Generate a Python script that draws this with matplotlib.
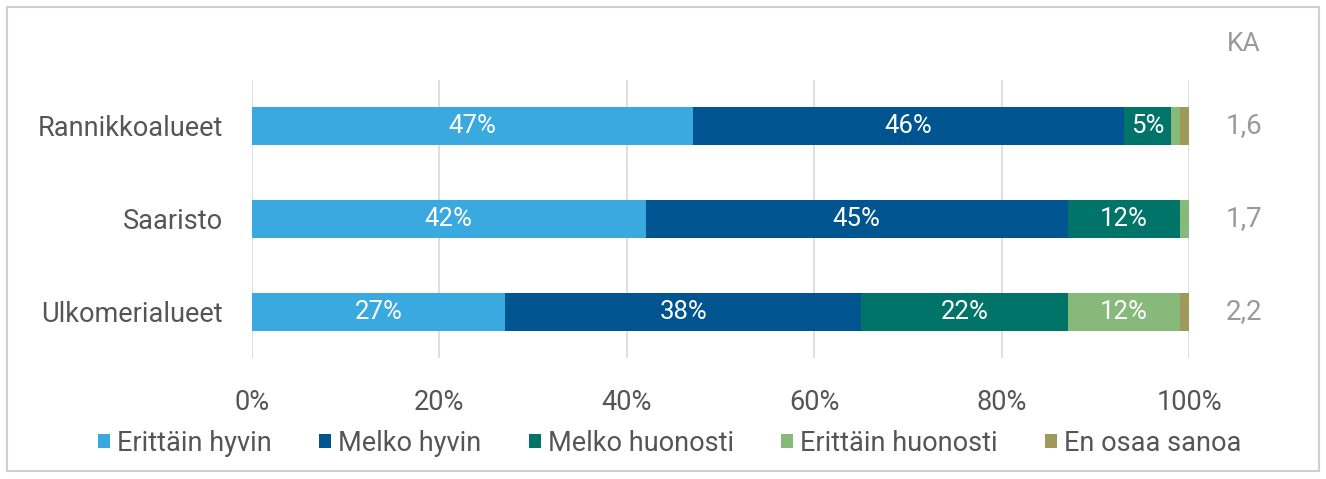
import numpy as np
import matplotlib.pyplot as plt
from matplotlib.patches import Rectangle

categories = ['Rannikkoalueet', 'Saaristo', 'Ulkomerialueet']
series_names = ['Erittäin hyvin', 'Melko hyvin', 'Melko huonosti', 'Erittäin huonosti', 'En osaa sanoa']
values = {
    'Erittäin hyvin': [47, 42, 27],
    'Melko hyvin': [46, 45, 38],
    'Melko huonosti': [5, 12, 22],
    'Erittäin huonosti': [1, 1, 12],
    'En osaa sanoa': [1, 0, 1],
}
ka_values = ['1,6', '1,7', '2,2']
colors = ['#39a9e0', '#00548f', '#007468', '#86b97a', '#a09a5a']
tick_labels = ['0%', '20%', '40%', '60%', '80%', '100%']

plt.rcParams['font.family'] = ['Roboto', 'DejaVu Sans']

fig = plt.figure(figsize=(13.26, 4.79), dpi=100)
ax = fig.add_axes([0.190, 0.252, 0.707, 0.582])

y = np.arange(len(categories))
left = np.zeros(len(categories))
handles = []
for name, col in zip(series_names, colors):
    vals = np.array(values[name], dtype=float)
    h = ax.barh(y, vals, left=left, height=0.41, color=col, label=name, zorder=3)
    handles.append(h)
    for yi, v, l in zip(y, vals, left):
        if v >= 5:
            ax.text(l + v / 2, yi, f'{int(v)}%', ha='center', va='center',
                    color='white', fontsize=18.5, zorder=4)
    left += vals

ax.set_xlim(0, 100)
ax.set_ylim(2.5, -0.5)
ax.set_xticks(np.arange(0, 101, 20))
ax.set_xticklabels(tick_labels)
ax.set_yticks(y)
ax.set_yticklabels(categories)
ax.tick_params(axis='both', length=0, labelsize=19.5, labelcolor='#555555')
ax.tick_params(axis='x', pad=22)
ax.tick_params(axis='y', pad=21)
ax.grid(axis='x', color='#d9d9d9', linewidth=1.2, zorder=0)
for s in ax.spines.values():
    s.set_visible(False)

# KA column
ax.text(1.058, -0.88, 'KA', transform=ax.get_yaxis_transform(), ha='center', va='center',
        fontsize=19, color='#9a9a9a')
for yi, ka in zip(y, ka_values):
    ax.text(1.058, yi, ka, transform=ax.get_yaxis_transform(), ha='center', va='center',
            fontsize=20, color='#9a9a9a')

fig.legend(handles=handles, labels=series_names, loc='center', bbox_to_anchor=(0.505, 0.075),
           ncol=5, frameon=False, fontsize=19.5, labelcolor='#555555',
           handlelength=0.45, handleheight=0.45, handletextpad=0.25, columnspacing=1.75)

fig.patches.append(Rectangle((0.005, 0.017), 0.99, 0.968, transform=fig.transFigure,
                             fill=False, edgecolor='#d0d0d0', linewidth=1.5))

fig.savefig('out.png', dpi=100)
